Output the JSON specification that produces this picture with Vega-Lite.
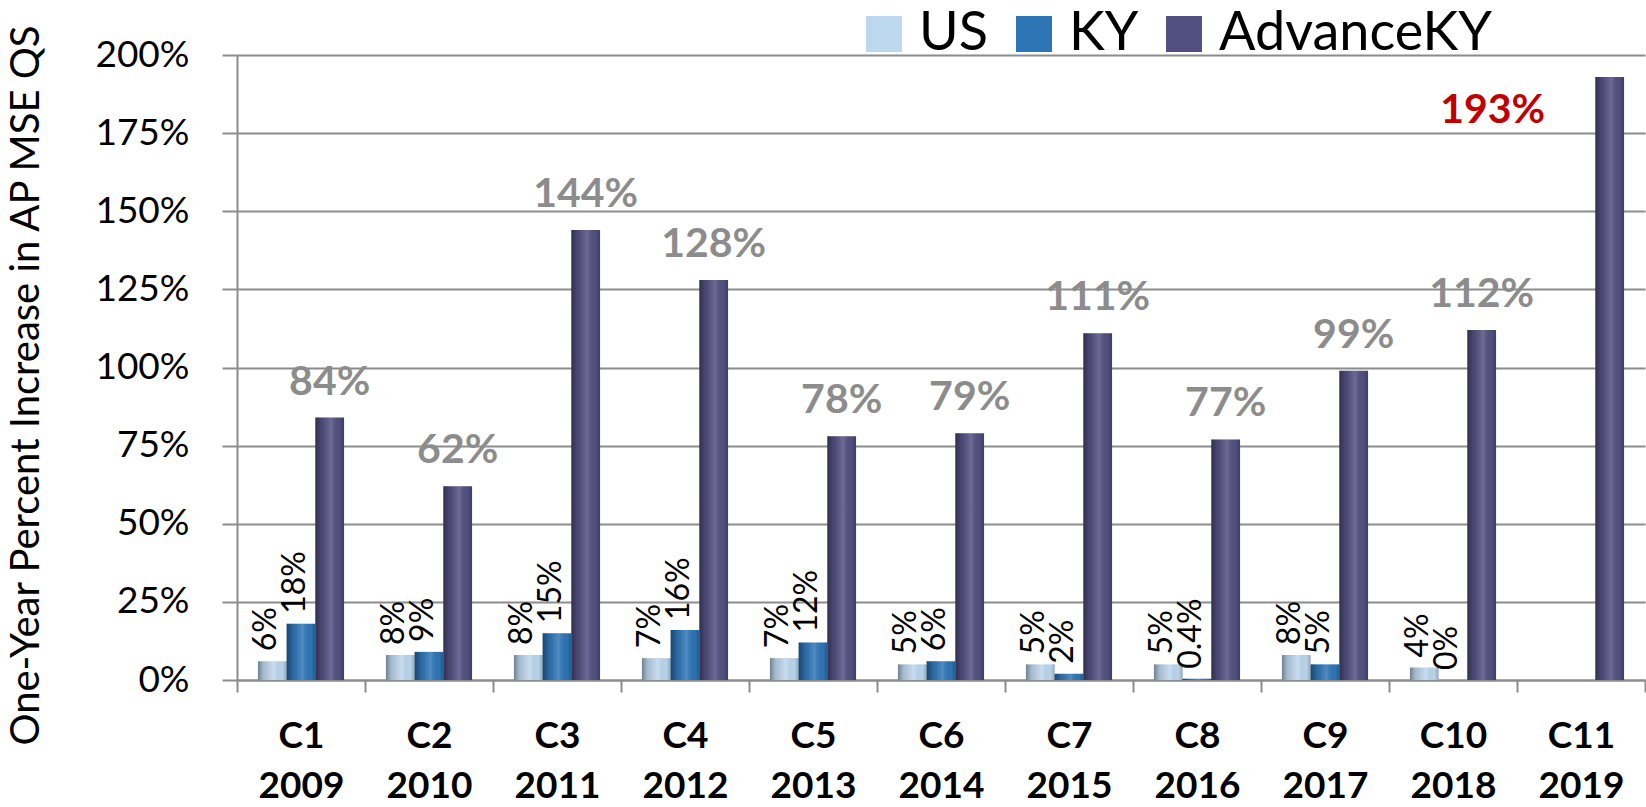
{
  "$schema": "https://vega.github.io/schema/vega-lite/v6.json",
  "width": 1408,
  "height": 625,
  "autosize": {"type": "none"},
  "padding": {"left": 237, "top": 55, "right": 1, "bottom": 127},
  "background": "white",
  "config": {"view": {"stroke": null}, "font": "Lato"},
  "data": {
    "values": [
      {"Cohort": "C1 2009", "Group": "US", "Value": 0.06},
      {"Cohort": "C1 2009", "Group": "KY", "Value": 0.18},
      {"Cohort": "C1 2009", "Group": "AdvanceKY", "Value": 0.84},
      {"Cohort": "C2 2010", "Group": "US", "Value": 0.08},
      {"Cohort": "C2 2010", "Group": "KY", "Value": 0.09},
      {"Cohort": "C2 2010", "Group": "AdvanceKY", "Value": 0.62},
      {"Cohort": "C3 2011", "Group": "US", "Value": 0.08},
      {"Cohort": "C3 2011", "Group": "KY", "Value": 0.15},
      {"Cohort": "C3 2011", "Group": "AdvanceKY", "Value": 1.44},
      {"Cohort": "C4 2012", "Group": "US", "Value": 0.07},
      {"Cohort": "C4 2012", "Group": "KY", "Value": 0.16},
      {"Cohort": "C4 2012", "Group": "AdvanceKY", "Value": 1.28},
      {"Cohort": "C5 2013", "Group": "US", "Value": 0.07},
      {"Cohort": "C5 2013", "Group": "KY", "Value": 0.12},
      {"Cohort": "C5 2013", "Group": "AdvanceKY", "Value": 0.78},
      {"Cohort": "C6 2014", "Group": "US", "Value": 0.05},
      {"Cohort": "C6 2014", "Group": "KY", "Value": 0.06},
      {"Cohort": "C6 2014", "Group": "AdvanceKY", "Value": 0.79},
      {"Cohort": "C7 2015", "Group": "US", "Value": 0.05},
      {"Cohort": "C7 2015", "Group": "KY", "Value": 0.02},
      {"Cohort": "C7 2015", "Group": "AdvanceKY", "Value": 1.11},
      {"Cohort": "C8 2016", "Group": "US", "Value": 0.05},
      {"Cohort": "C8 2016", "Group": "KY", "Value": 0.004},
      {"Cohort": "C8 2016", "Group": "AdvanceKY", "Value": 0.77},
      {"Cohort": "C9 2017", "Group": "US", "Value": 0.08},
      {"Cohort": "C9 2017", "Group": "KY", "Value": 0.05},
      {"Cohort": "C9 2017", "Group": "AdvanceKY", "Value": 0.99},
      {"Cohort": "C10 2018", "Group": "US", "Value": 0.04},
      {"Cohort": "C10 2018", "Group": "KY", "Value": 0.0},
      {"Cohort": "C10 2018", "Group": "AdvanceKY", "Value": 1.12},
      {"Cohort": "C11 2019", "Group": "AdvanceKY", "Value": 1.93}
    ]
  },
  "encoding": {
    "x": {
      "field": "Cohort",
      "type": "nominal",
      "sort": ["C1 2009", "C2 2010", "C3 2011", "C4 2012", "C5 2013", "C6 2014", "C7 2015", "C8 2016", "C9 2017", "C10 2018", "C11 2019"],
      "scale": {"paddingInner": 0, "paddingOuter": 0},
      "axis": {
        "title": null,
        "labelExpr": "datum.value ? split(datum.value, ' ') : ''",
        "labelAngle": 0,
        "labelFont": "Lato",
        "labelFontSize": 37,
        "labelFontWeight": "bold",
        "labelColor": "black",
        "labelLineHeight": 50,
        "labelPadding": 26,
        "tickBand": "extent",
        "tickSize": 12,
        "tickColor": "#8c8c8c",
        "tickWidth": 2,
        "domainColor": "#8c8c8c",
        "domainWidth": 2,
        "grid": false
      }
    },
    "xOffset": {
      "field": "Group",
      "type": "nominal",
      "sort": ["US", "KY", "AdvanceKY"],
      "scale": {"paddingInner": 0, "paddingOuter": 0.73}
    },
    "y": {
      "field": "Value",
      "type": "quantitative",
      "scale": {"domain": [0, 2]},
      "axis": {
        "values": [0, 0.25, 0.5, 0.75, 1, 1.25, 1.5, 1.75, 2],
        "format": ".0%",
        "labelFont": "Lato",
        "labelFontSize": 37,
        "labelColor": "black",
        "labelPadding": 33,
        "tickSize": 15,
        "tickColor": "#8c8c8c",
        "tickWidth": 2,
        "domainColor": "#8c8c8c",
        "domainWidth": 2,
        "grid": true,
        "gridColor": "#8c8c8c",
        "gridWidth": 2,
        "title": "One-Year Percent Increase in AP MSE QS",
        "titleFont": "Lato",
        "titleFontSize": 40,
        "titleFontWeight": "normal",
        "titleColor": "black",
        "titlePadding": 48,
        "titleY": 330
      }
    }
  },
  "layer": [
    {
      "mark": {"type": "bar"},
      "encoding": {
        "color": {
          "field": "Group",
          "type": "nominal",
          "sort": ["US", "KY", "AdvanceKY"],
          "scale": {"domain": ["US", "KY", "AdvanceKY"], "range": ["#BDD7EE", "#2E75B6", "#524F81"]},
          "legend": {
            "title": null,
            "orient": "none",
            "legendX": 620,
            "legendY": -48,
            "direction": "horizontal",
            "columns": 3,
            "symbolType": "square",
            "symbolSize": 1296,
            "symbolStrokeWidth": 0,
            "symbolOpacity": 1,
            "labelFont": "Lato",
            "labelFontSize": 54,
            "labelColor": "black",
            "labelOffset": 8,
            "labelLimit": 400,
            "columnPadding": 18,
            "padding": 0
          }
        }
      }
    },
    {
      "mark": {
        "type": "bar",
        "color": {
          "gradient": "linear",
          "x1": 0, "y1": 0, "x2": 1, "y2": 0,
          "stops": [
            {"offset": 0, "color": "rgba(0,0,0,0.40)"},
            {"offset": 0.2, "color": "rgba(0,0,0,0.12)"},
            {"offset": 0.55, "color": "rgba(255,255,255,0.16)"},
            {"offset": 0.85, "color": "rgba(0,0,0,0.02)"},
            {"offset": 1, "color": "rgba(0,0,0,0.22)"}
          ]
        }
      },
      "encoding": {}
    },
    {
      "transform": [{"filter": "datum.Group !== 'AdvanceKY'"}],
      "mark": {"type": "text", "angle": 270, "align": "left", "baseline": "middle", "dx": 10, "dy": -6, "font": "Lato", "fontSize": 32, "color": "black"},
      "encoding": {"text": {"field": "Value", "type": "quantitative", "format": ".1~%"}}
    },
    {
      "transform": [{"filter": "datum.Group === 'AdvanceKY' && datum.Cohort !== 'C11 2019'"}],
      "mark": {"type": "text", "align": "center", "baseline": "alphabetic", "dx": 0, "dy": -23, "font": "Lato", "fontSize": 41, "fontWeight": "bold", "color": "#8C8C8C"},
      "encoding": {"text": {"field": "Value", "type": "quantitative", "format": ".0%"}}
    },
    {
      "transform": [{"filter": "datum.Group === 'AdvanceKY' && datum.Cohort === 'C11 2019'"}],
      "mark": {"type": "text", "align": "center", "baseline": "alphabetic", "dx": -117, "dy": 46, "font": "Lato", "fontSize": 41, "fontWeight": "bold", "color": "#C00000"},
      "encoding": {"text": {"field": "Value", "type": "quantitative", "format": ".0%"}}
    }
  ]
}
